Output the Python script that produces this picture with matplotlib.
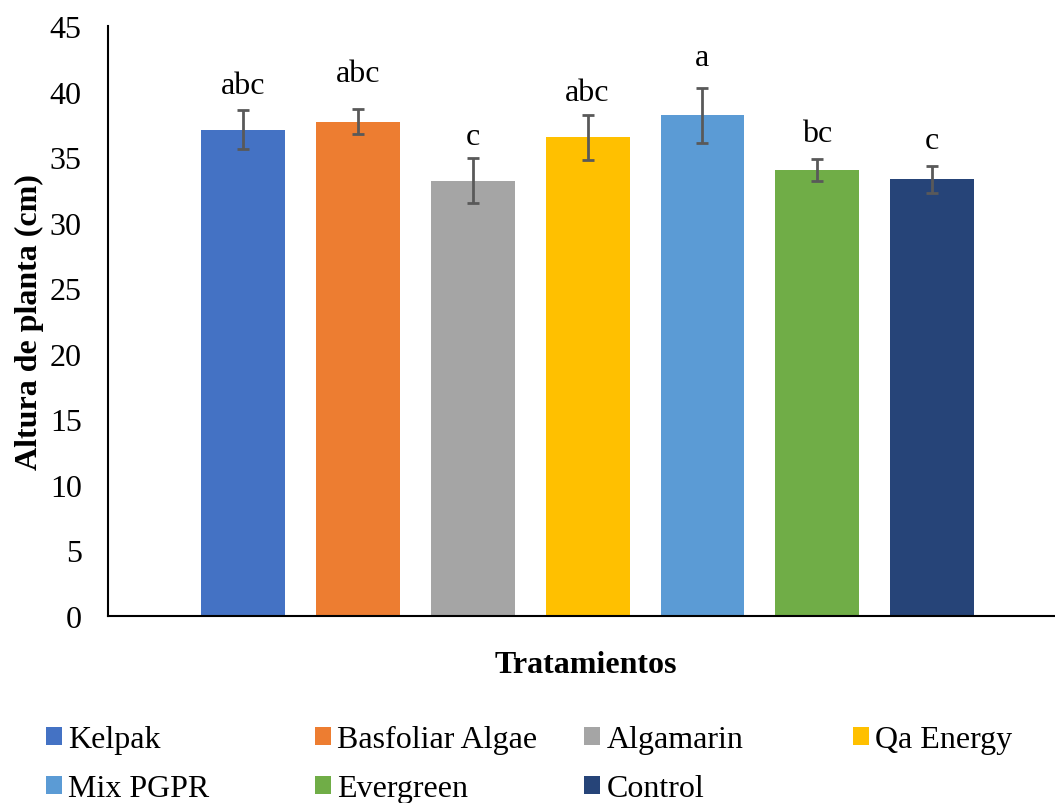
import numpy as np
import matplotlib
matplotlib.use("Agg")
from matplotlib import pyplot as plt
from matplotlib.patches import Patch

# Plant height per treatment (cm), standard error and Tukey letters
treatments = ["Kelpak", "Basfoliar Algae", "Algamarin", "Qa Energy",
              "Mix PGPR", "Evergreen", "Control"]
heights = [37.1, 37.7, 33.2, 36.5, 38.2, 34.0, 33.3]
errors = [1.5, 0.95, 1.7, 1.7, 2.1, 0.85, 1.05]
letters = ["abc", "abc", "c", "abc", "a", "bc", "c"]

colors = ["#4472C4", "#ED7D31", "#A5A5A5", "#FFC000",
          "#5B9BD5", "#70AD47", "#264478"]
# gap (points) between error cap and letter
letter_gap = [7, 15, 5, 6, 11, 8, 8]

plt.rcParams["font.family"] = ["Liberation Serif", "DejaVu Serif"]
FS = 23

fig = plt.figure(figsize=(10.55, 8.04), dpi=100)
ax = fig.add_axes([0.1024, 0.2326, 0.8976, 0.7338])

x = np.arange(len(treatments))
ax.bar(x, heights, width=0.73, color=colors, zorder=2)
ax.errorbar(x, heights, yerr=errors, fmt="none", ecolor="#595959",
            elinewidth=2, capsize=4.5, capthick=2, zorder=3)

for xi, h, e, lab, g in zip(x, heights, errors, letters, letter_gap):
    ax.annotate(lab, (xi, h + e), xytext=(0, g), textcoords="offset points",
                ha="center", va="bottom", fontsize=FS)

ax.set_xlim(-1.176, 7.07)
ax.set_ylim(0, 45)
ax.set_yticks(range(0, 46, 5))
ax.set_xticks([])
ax.tick_params(axis="y", length=0, pad=19, labelsize=FS)
for s in ["top", "right"]:
    ax.spines[s].set_visible(False)
for s in ["left", "bottom"]:
    ax.spines[s].set_linewidth(1.5)

ax.set_ylabel("Altura de planta (cm)", fontsize=FS, fontweight="bold")
ax.yaxis.set_label_coords(-0.068, 0.5)
ax.set_xlabel("Tratamientos", fontsize=FS, fontweight="bold")
ax.xaxis.set_label_coords(0.505, -0.058)

# legend laid out in four equal-width columns
handles = [Patch(facecolor=c, edgecolor="none") for c in colors]
col_x = [0.0436, 0.2986, 0.5536, 0.8085]
for ci, cx in enumerate(col_x):
    idx = [i for i in (ci, ci + 4) if i < len(treatments)]
    fig.legend([handles[i] for i in idx], [treatments[i] for i in idx],
               loc="upper left", bbox_to_anchor=(cx, 0.0965),
               frameon=False, fontsize=FS, handlelength=0.5,
               handleheight=0.5, handletextpad=0.2, labelspacing=0.62,
               borderpad=0, borderaxespad=0)

fig.savefig("out.png", dpi=100)
